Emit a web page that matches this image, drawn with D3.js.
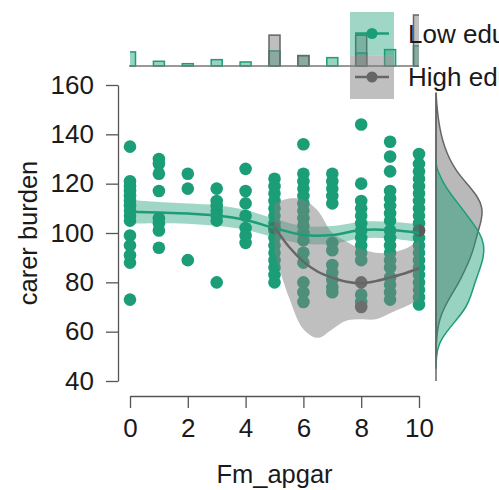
<!DOCTYPE html>
<html><head><meta charset="utf-8">
<script src="https://cdn.jsdelivr.net/npm/d3@7"></script>
<style>body{margin:0;background:#fff} text{font-family:"Liberation Sans",Arial,Helvetica,sans-serif;fill:#1a1a1a}</style>
</head><body><svg id="c" width="499" height="490"></svg>
<script>
// ---------- data ----------
const xTicks = [0, 2, 4, 6, 8, 10];
const yTicks = [40, 60, 80, 100, 120, 140, 160];
const groups = ["Low education", "High education"];
const apgar = [0,1,2,3,4,5,6,7,8,9,10];
// carer burden of the Low education group, one list per Fm_apgar value
const lowBurden = [
  [135,121,119,117,115,113,111,109,107,105,99,95,91,88,73],
  [130,128,124,117,106,104,101,94],
  [124,118,89],
  [118,113,111,109,107,105,80],
  [126,117,112,107,102,99,96],
  [122,119,116,113,110,107,104,101,98,95,92,89,86,83,80],
  [136,124,121,118,115,112,109,106,103,100,97,92,88,80,76,72],
  [124,121,118,115,112,96,93,87,84,81,78,76],
  [144,120,113,110,107,104,101,98,95,92,89,75,72],
  [137,131,125,117,114,111,108,105,101,98,95,92,89,86,82,79,76,73],
  [132,128,125,122,119,116,113,110,107,104,101,98,95,92,89,86,83,80,77,74,71]
];
// visible High education points
const highX = [5, 8, 8, 10];
const highBurden = [102, 80, 70, 101];
// smooth fit, Low education
const lowFit   = [108.6,108.3,107.9,107.1,105.3,102.0,99.2,99.2,101.2,101.2,100.0];
const lowUpper = [113.4,112.6,112.0,111.3,109.3,105.8,102.8,102.8,104.6,104.6,103.5];
const lowLower = [103.8,104.0,103.8,102.9,101.3,98.2,95.6,95.6,97.8,97.8,96.3];
// smooth fit, High education
const highFitX  = [5,5.5,6,6.5,7,7.5,8,8.5,9,9.5,10];
const highFit   = [102.5,94.4,88.4,84.3,81.9,80.2,79.6,80.5,82.0,83.6,85.7];
const highUpper = [112,114,113.5,109,100,96.5,93.5,92,92,93.5,97];
const highLower = [92,74,61,57.5,61,64.5,65,65,67.5,70,72.8];
// top histogram (relative heights)
const histLow  = [14,4.7,2.3,6.3,4,15,10.3,8.3,13,16.3,20];
const histHigh = [0,0,0,0,0,30.7,10.3,0,30.7,0,50.7];
// right marginal densities (relative)
const densYLow  = [130,127,125,120,115,110,105,100,95,90,85,80,75,70,65,60,55,50,45];
const densLow   = [0,0.3,2,7.5,16,26,35,44,48.5,47.5,43.5,39,35.3,30.5,21,10.5,2.5,0.3,0];
const densYHigh = [157,155,150,145,140,135,130,125,120,115,110,105,100,95,90,85,80,75,70,65,60,55,50];
const densHigh  = [0,0.3,1.2,2.8,5,8.5,13.5,20.5,31,41.5,47,45.5,41.5,38.5,34.5,29,23,15.5,8.5,3.5,1.2,0.3,0];

// ---------- drawing ----------
const green = "#1b9e77", grey = "#666666";
const svg = d3.select("#c");
const x = d3.scaleLinear([0, 10], [130, 419]);
const y = d3.scaleLinear([40, 160], [381, 85]);

svg.append("defs").append("clipPath").attr("id","clipx")
  .append("rect").attr("x", x(0)).attr("y", 0).attr("width", x(10)-x(0)).attr("height", 80);

// top histogram
const hy = d3.scaleLinear([0, 50.7], [66, 15]);
const bw = 11;
const hg = svg.append("g").attr("clip-path","url(#clipx)");
hg.selectAll(".hl").data(apgar.filter(i=>histLow[i]>0)).join("rect")
  .attr("x", d=>x(d)-bw/2).attr("width", bw)
  .attr("y", d=>hy(histLow[d])).attr("height", d=>hy(0)-hy(histLow[d]))
  .attr("fill", green).attr("fill-opacity",0.45).attr("stroke", green).attr("stroke-width",1.5);
hg.selectAll(".hh").data(apgar.filter(i=>histHigh[i]>0)).join("rect")
  .attr("x", d=>x(d)-bw/2).attr("width", bw)
  .attr("y", d=>hy(histHigh[d])).attr("height", d=>hy(0)-hy(histHigh[d]))
  .attr("fill", "#808080").attr("fill-opacity",0.5).attr("stroke", grey).attr("stroke-width",1.5);
svg.append("line").attr("x1", x(0)-1).attr("x2", x(10)).attr("y1", hy(0)).attr("y2", hy(0))
  .attr("stroke", "#777").attr("stroke-width",1.5);

// points
const lowPts = lowBurden.flatMap((arr,i)=>arr.map(v=>[apgar[i], v]));
svg.append("g").selectAll("circle").data(lowPts).join("circle")
  .attr("cx", d=>x(d[0])).attr("cy", d=>y(d[1])).attr("r", 6.3).attr("fill", green);
svg.append("g").selectAll("circle").data(highX.map((v,i)=>[v, highBurden[i]])).join("circle")
  .attr("cx", d=>x(d[0])).attr("cy", d=>y(d[1])).attr("r", 6.3).attr("fill", "#5a5a5a");

// ribbons and fits
const curve = d3.curveCatmullRom;
svg.append("path").datum(apgar.map((v,i)=>[v, lowUpper[i], lowLower[i]]))
  .attr("d", d3.area().x(d=>x(d[0])).y0(d=>y(d[2])).y1(d=>y(d[1])).curve(curve))
  .attr("fill", green).attr("fill-opacity", 0.42);
svg.append("path").datum(highFitX.map((v,i)=>[v, highUpper[i], highLower[i]]))
  .attr("d", d3.area().x(d=>x(d[0])).y0(d=>y(d[2])).y1(d=>y(d[1])).curve(curve))
  .attr("fill", "#808080").attr("fill-opacity", 0.5);
svg.append("path").datum(apgar.map((v,i)=>[v, lowFit[i]]))
  .attr("d", d3.line().x(d=>x(d[0])).y(d=>y(d[1])).curve(curve))
  .attr("fill","none").attr("stroke", green).attr("stroke-width", 2.5);
svg.append("path").datum(highFitX.map((v,i)=>[v, highFit[i]]))
  .attr("d", d3.line().x(d=>x(d[0])).y(d=>y(d[1])).curve(curve))
  .attr("fill","none").attr("stroke", grey).attr("stroke-width", 2.5);

// right densities
const dx = d3.scaleLinear([0, 50], [436, 486]);
svg.append("path").datum(densYHigh.map((v,i)=>[v, densHigh[i]]))
  .attr("d", d3.area().y(d=>y(d[0])).x0(dx(0)).x1(d=>dx(d[1])).curve(d3.curveBasis))
  .attr("fill", "#808080").attr("fill-opacity", 0.55).attr("stroke", grey).attr("stroke-width", 1.5);
svg.append("path").datum(densYLow.map((v,i)=>[v, densLow[i]]))
  .attr("d", d3.area().y(d=>y(d[0])).x0(dx(0)).x1(d=>dx(d[1])).curve(d3.curveBasis))
  .attr("fill", green).attr("fill-opacity", 0.45).attr("stroke", green).attr("stroke-width", 1.5);
svg.append("line").attr("x1", dx(0)).attr("x2", dx(0)).attr("y1", 93).attr("y2", y(40))
  .attr("stroke", grey).attr("stroke-width", 1.5);

// axes
const fs = 26, tfs = 25.5;
const ya = svg.append("g").attr("transform", "translate(118,0)")
  .call(d3.axisLeft(y).tickValues(yTicks).tickSize(12).tickPadding(12).tickSizeOuter(0));
const xa = svg.append("g").attr("transform", "translate(0,396)")
  .call(d3.axisBottom(x).tickValues(xTicks).tickSize(12).tickPadding(11).tickSizeOuter(0));
[ya, xa].forEach(a=>{
  a.selectAll("path,line").attr("stroke", "#555").attr("stroke-width", 1.3);
  a.selectAll("text").attr("font-size", fs).attr("font-family", "Liberation Sans, Arial, sans-serif").attr("fill", "#1a1a1a");
});
svg.append("text").attr("x", (x(0)+x(10))/2).attr("y", 483).attr("text-anchor","middle")
  .attr("font-size", tfs).text("Fm_apgar");
svg.append("text").attr("transform", `translate(37,${y(100)}) rotate(-90)`).attr("text-anchor","middle")
  .attr("font-size", tfs).text("carer burden");

// legend
const lg = svg.append("g");
const lcol = [green, grey];
const lfill = [green, "#808080"];
groups.forEach((g,i)=>{
  const yy = 12 + i*43.5;
  lg.append("rect").attr("x", 350).attr("y", yy).attr("width", 44).attr("height", 43.5)
    .attr("fill", lfill[i]).attr("fill-opacity", i===0 ? 0.42 : 0.5);
  const cy = yy + 21.5;
  lg.append("line").attr("x1", 355).attr("x2", 389).attr("y1", cy).attr("y2", cy)
    .attr("stroke", lcol[i]).attr("stroke-width", 2.5);
  lg.append("circle").attr("cx", 372).attr("cy", cy).attr("r", 5.5).attr("fill", lcol[i]);
  lg.append("text").attr("x", 408).attr("y", cy + 9).attr("font-size", 26).text(g);
});
</script></body></html>
